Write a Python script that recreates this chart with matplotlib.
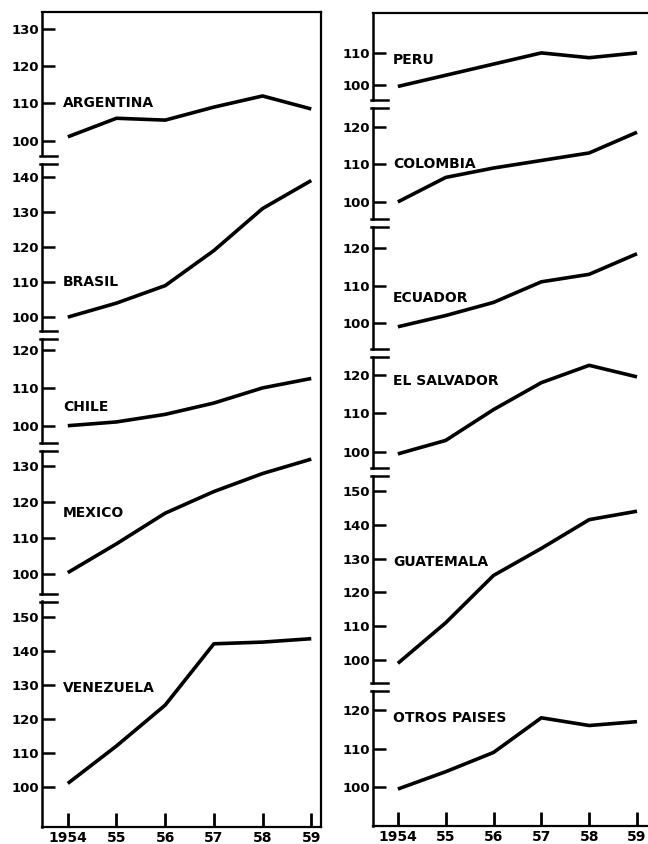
import matplotlib
matplotlib.use('Agg')
import matplotlib.pyplot as plt
from matplotlib.lines import Line2D

years = [1954, 1955, 1956, 1957, 1958, 1959]
year_labels = ['1954', '55', '56', '57', '58', '59']

# indices (base 1954 = 100)
argentina = [101, 106, 105.5, 109, 112, 108.5]
brasil = [100, 104, 109, 119, 131, 139]
chile = [100, 101, 103, 106, 110, 112.5]
mexico = [100.5, 108.5, 117, 123, 128, 132]
venezuela = [101, 112, 124, 142, 142.5, 143.5]

peru = [99.5, 103, 106.5, 110, 108.5, 110]
colombia = [100, 106.5, 109, 111, 113, 118.5]
ecuador = [99, 102, 105.5, 111, 113, 118.5]
el_salvador = [99.5, 103, 111, 118, 122.5, 119.5]
guatemala = [99, 111, 125, 133, 141.5, 144]
otros = [99.5, 104, 109, 118, 116, 117]

W, H = 648, 844
fig = plt.figure(figsize=(W / 100, H / 100), dpi=100)
fig.patch.set_facecolor('white')

FONT = 'DejaVu Sans'
LW = 2.6


def fx(x):
	return x / W


def fy(y):
	return 1 - y / H


def column(x0, x1, top, bottom, xlim, panels, show_right=True):
	# frame with top / right / bottom border and the year ticks
	frame = fig.add_axes([fx(x0), fy(bottom), fx(x1 - x0), (bottom - top) / H])
	frame.set_xlim(*xlim)
	frame.set_ylim(0, 1)
	frame.spines['left'].set_visible(False)
	frame.spines['right'].set_visible(show_right)
	for s in ('top', 'right', 'bottom'):
		frame.spines[s].set_linewidth(1.6)
	frame.set_yticks([])
	frame.set_xticks(years)
	frame.set_xticklabels(year_labels, fontsize=10, fontweight='bold', family=FONT)
	frame.tick_params(axis='x', direction='in', length=10, width=2, pad=3)

	bounds = [top] + [p[0] for p in panels[1:]] + [bottom]
	for i, (ptop, name, data, ylim, ticks, label_y) in enumerate(panels):
		pbot = bounds[i + 1]
		ax = fig.add_axes([fx(x0), fy(pbot), fx(x1 - x0), (pbot - ptop) / H])
		ax.patch.set_visible(False)
		ax.set_xlim(*xlim)
		ax.set_ylim(*ylim)
		for s in ('top', 'right', 'bottom'):
			ax.spines[s].set_visible(False)
		ax.spines['left'].set_linewidth(1.8)
		# gap in the axis at the breaks
		per_px = (ylim[1] - ylim[0]) / (pbot - ptop)
		lo = ylim[0] + (4 * per_px if i < len(panels) - 1 else 0)
		hi = ylim[1] - (4 * per_px if i > 0 else 0)
		ax.spines['left'].set_bounds(lo, hi)
		ax.set_xticks([])
		ax.set_yticks(ticks)
		ax.set_yticklabels([str(t) for t in ticks], fontsize=9.5, fontweight='bold', family=FONT)
		ax.tick_params(axis='y', direction='in', length=9, width=1.8, pad=2)
		ax.plot(years, data, color='black', linewidth=LW, solid_capstyle='butt',
			solid_joinstyle='round')
		ax.text(1953.9, label_y, name, fontsize=10, fontweight='bold', family=FONT,
			ha='left', va='center')

	# break marks
	for yb in bounds[1:-1]:
		for dy in (-4, 4):
			fig.add_artist(Line2D([fx(x0 - 2), fx(x0 + 15)], [fy(yb + dy), fy(yb + dy)],
				color='black', linewidth=1.8, transform=fig.transFigure))


# (panel top px, name, series, ylim, ticks, label value)
left_panels = [
	(12, 'ARGENTINA', argentina, (94.9, 134.6), [100, 110, 120, 130], 110),
	(159.5, 'BRASIL', brasil, (94.9, 145), [100, 110, 120, 130, 140], 110),
	(335, 'CHILE', chile, (94.5, 124), [100, 110, 120], 105),
	(446.5, 'MEXICO', mexico, (93.6, 135.5), [100, 110, 120, 130], 117),
	(597.5, 'VENEZUELA', venezuela, (88.2, 155.6), [100, 110, 120, 130, 140, 150], 129),
]
right_panels = [
	(13, 'PERU', peru, (94, 122.5), [100, 110], 107.8),
	(104, 'COLOMBIA', colombia, (94.4, 126), [100, 110, 120], 110),
	(223, 'ECUADOR', ecuador, (92, 126.7), [100, 110, 120], 106.7),
	(353, 'EL SALVADOR', el_salvador, (94.8, 125.7), [100, 110, 120], 118.4),
	(472, 'GUATEMALA', guatemala, (92, 155.6), [100, 110, 120, 130, 140, 150], 129),
	(687, 'OTROS PAISES', otros, (89.9, 126), [100, 110, 120], 118),
]

column(42, 321, 12, 827, (1953.47, 1959.2), left_panels)
column(373, 648, 13, 826, (1953.48, 1959.23), right_panels, show_right=False)

plt.savefig('out.png', dpi=100)
